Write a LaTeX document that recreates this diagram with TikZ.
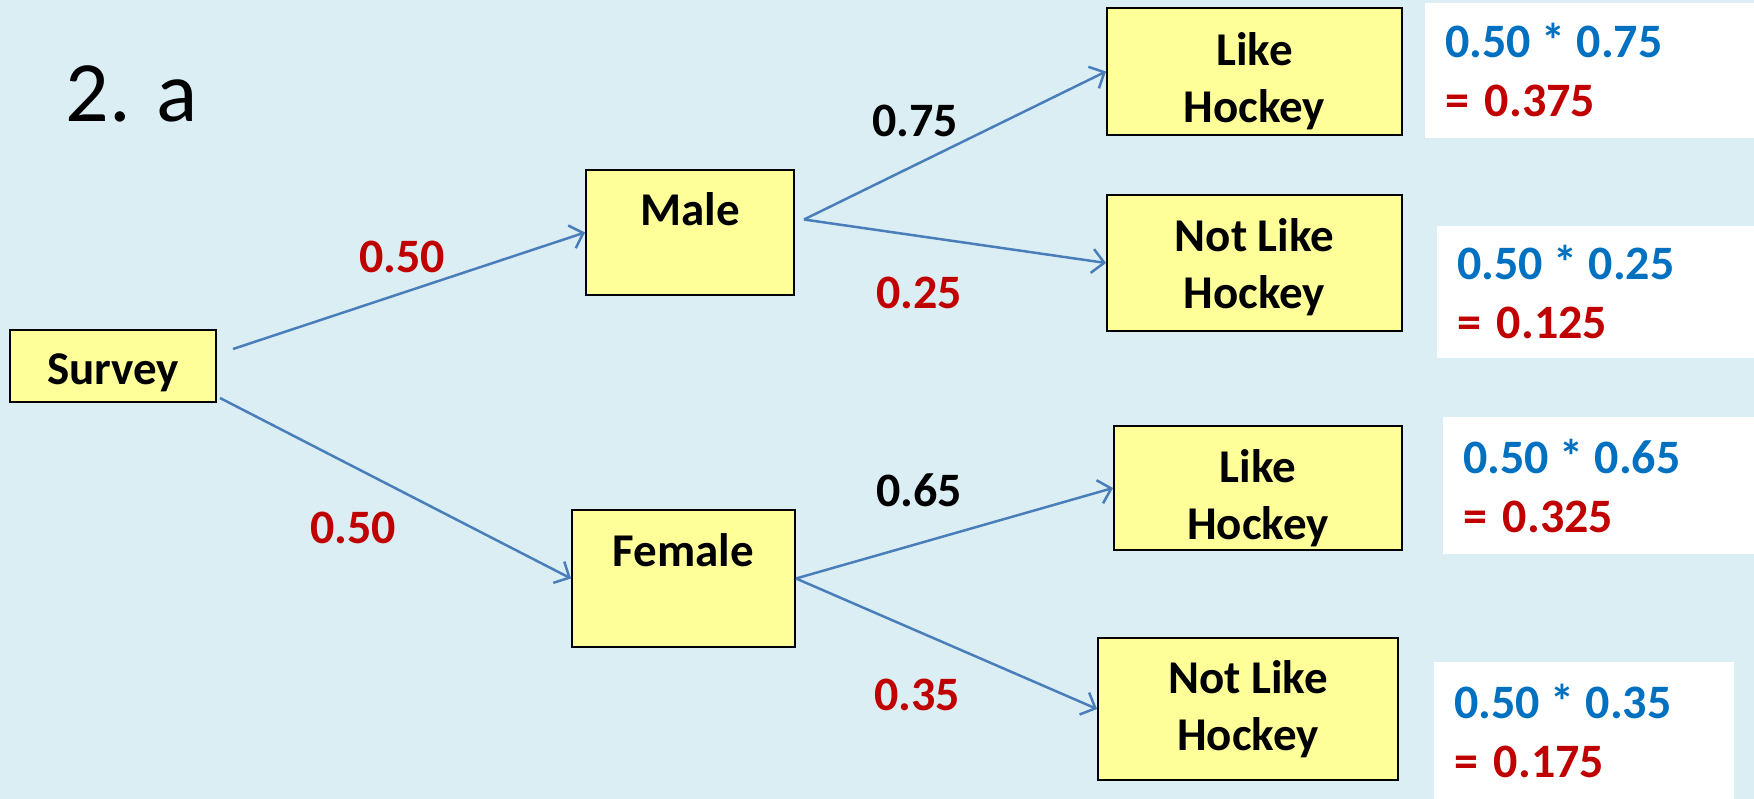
\documentclass[tikz,border=0pt]{standalone}
\usepackage{fontspec}
\setmainfont{Carlito}
\usetikzlibrary{arrows.meta}
\definecolor{bg}{HTML}{DBEEF4}
\definecolor{boxyellow}{HTML}{FFFF99}
\definecolor{lineblue}{HTML}{4A7EBB}
\definecolor{resred}{HTML}{C00000}
\definecolor{resblue}{HTML}{0070C0}
\newcommand{\mysp}{\hspace{0.23em}}
\begin{document}
\begin{tikzpicture}[x=1pt,y=-1pt,
  box/.style={draw=black, line width=2pt, fill=boxyellow, inner sep=0pt},
  boxtext/.style={inner sep=0pt, align=center, font=\fontsize{47}{57}\selectfont\bfseries},
  resbox/.style={fill=white, inner ysep=0pt, inner xsep=20pt, align=left,
    font=\fontsize{48}{59}\selectfont\bfseries},
  prob/.style={font=\fontsize{48}{58}\selectfont\bfseries, inner sep=0pt},
  conn/.style={draw=lineblue, line width=2.5pt, -{Straight Barb[length=12pt,width=24pt,line width=2.5pt]}}
]
\fill[bg] (0,0) rectangle (1754,799);
\useasboundingbox (0,0) rectangle (1754,799);

\node[font=\fontsize{86}{100}\selectfont, inner sep=0pt] (title) at (132,94) {2. a};

\node[box, minimum width=206pt, minimum height=72pt] (survey) at (113,366) {};
\node[box, minimum width=208pt, minimum height=125pt] (male) at (690,232.5) {};
\node[box, minimum width=223pt, minimum height=137pt] (female) at (683.5,578.5) {};
\node[box, minimum width=295pt, minimum height=127pt] (lh1) at (1254.5,71.5) {};
\node[box, minimum width=295pt, minimum height=136pt] (nlh1) at (1254.5,263) {};
\node[box, minimum width=288pt, minimum height=124pt] (lh2) at (1258,488) {};
\node[box, minimum width=300pt, minimum height=142pt] (nlh2) at (1248,709) {};

\node[boxtext] (survey-t) at ([yshift=-7pt]survey.center) {Survey};
\node[boxtext] (male-t) at (male.center) {Male\\[-10pt]~};
\node[boxtext] (female-t) at (female.center) {Female\\~};
\node[boxtext] (lh1-t) at ([yshift=-10pt]lh1.center) {Like\\Hockey};
\node[boxtext] (nlh1-t) at ([yshift=-4pt]nlh1.center) {Not Like\\Hockey};
\node[boxtext] (lh2-t) at ([yshift=-10pt]lh2.center) {Like\\Hockey};
\node[boxtext] (nlh2-t) at (nlh2.center) {Not Like\\Hockey};

\node[resbox, text width=289pt, minimum height=135pt] (r1) at (1589.5,70.5)
  {\textcolor{resblue}{0.50\mysp*\mysp0.75}\\\textcolor{resred}{= 0.375}};
\node[resbox, text width=277pt, minimum height=132pt] (r2) at (1595.5,292)
  {\textcolor{resblue}{0.50\mysp*\mysp0.25}\\\textcolor{resred}{= 0.125}};
\node[resbox, text width=271pt, minimum height=137pt] (r3) at (1598.5,485.5)
  {\textcolor{resblue}{0.50\mysp*\mysp0.65}\\\textcolor{resred}{= 0.325}};
\node[resbox, text width=260pt, minimum height=137pt] (r4) at (1584,730.5)
  {\textcolor{resblue}{0.50\mysp*\mysp0.35}\\\textcolor{resred}{= 0.175}};

\coordinate (s-up) at ([xshift=16pt,yshift=17pt]survey.east);
\coordinate (s-down) at ([xshift=3pt,yshift=5pt]survey.south east);
\coordinate (m-out) at ([xshift=9pt,yshift=13pt]male.east);

\draw[conn] (s-up) -- (male.west);
\draw[conn] (s-down) -- (female.west);
\draw[conn] (m-out) -- (lh1.west);
\draw[conn] (m-out) -- (nlh1.west);
\draw[conn] (female.east) -- (lh2.west);
\draw[conn] (female.east) -- (nlh2.west);

\node[prob, text=resred] (p1) at (402,257) {0.50};
\node[prob, text=resred] (p2) at (353,528) {0.50};
\node[prob, text=black] (p3) at (915,121) {0.75};
\node[prob, text=resred] (p4) at (919,293) {0.25};
\node[prob, text=black] (p5) at (919,490) {0.65};
\node[prob, text=resred] (p6) at (917,695) {0.35};
\end{tikzpicture}
\end{document}
